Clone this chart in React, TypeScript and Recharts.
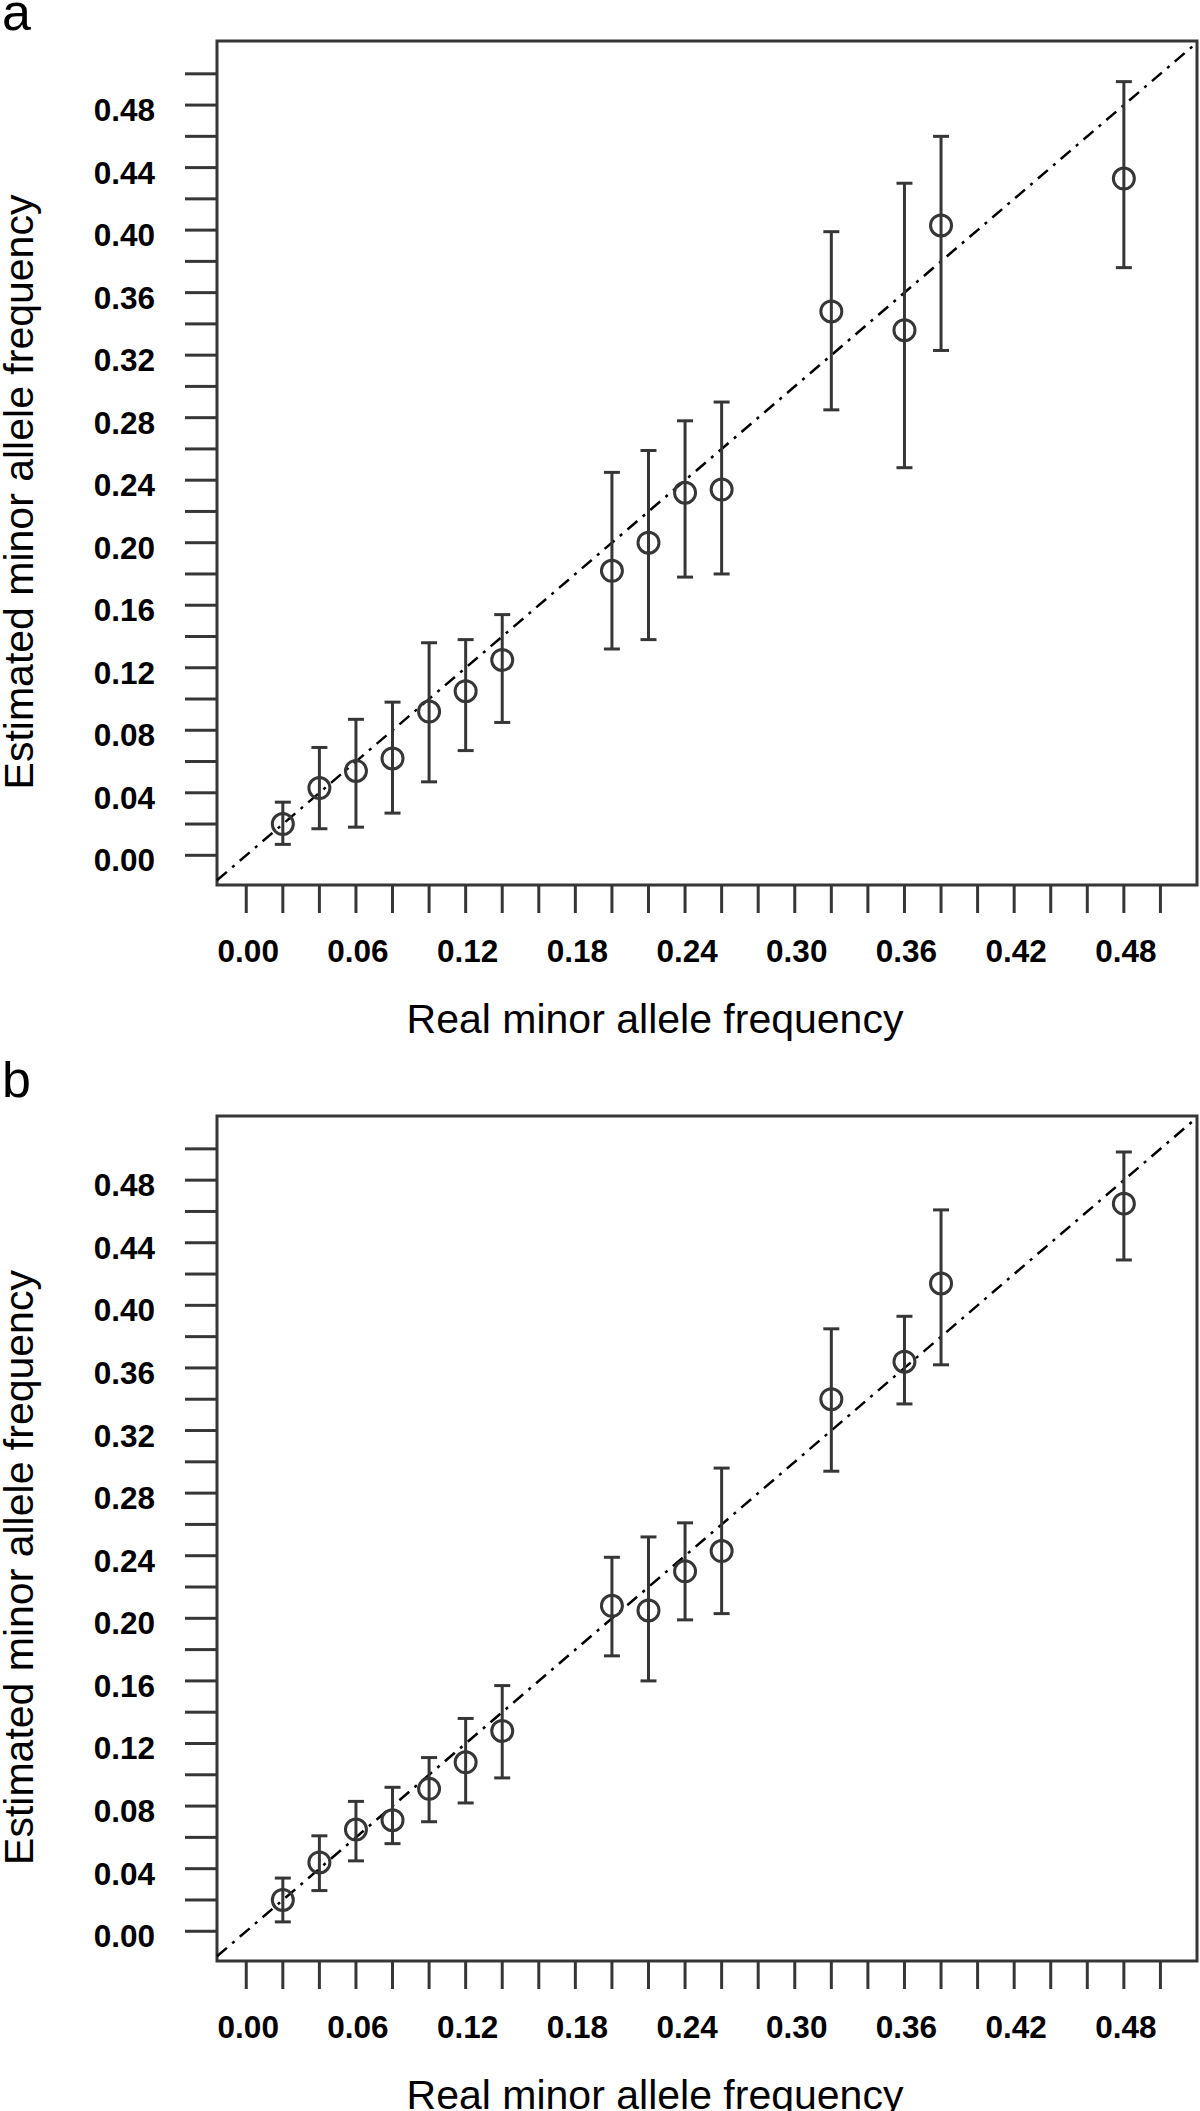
import {
  ScatterChart,
  Scatter,
  XAxis,
  YAxis,
  ErrorBar,
  ReferenceArea,
  ReferenceLine,
  Label,
} from "recharts";

// real minor allele frequency (x positions, shared by both panels)
const realFreq = [0.02, 0.04, 0.06, 0.08, 0.1, 0.12, 0.14, 0.2, 0.22, 0.24, 0.26, 0.32, 0.36, 0.38, 0.48];

// panel a
const estA = [0.02, 0.043, 0.054, 0.062, 0.092, 0.105, 0.125, 0.182, 0.2, 0.232, 0.234, 0.348, 0.336, 0.403, 0.433];
const lowA = [0.007, 0.017, 0.018, 0.027, 0.047, 0.067, 0.085, 0.132, 0.138, 0.178, 0.18, 0.285, 0.248, 0.323, 0.376];
const highA = [0.034, 0.069, 0.087, 0.098, 0.136, 0.138, 0.154, 0.245, 0.259, 0.278, 0.29, 0.399, 0.43, 0.46, 0.495];

// panel b
const estB = [0.02, 0.044, 0.065, 0.071, 0.091, 0.108, 0.128, 0.208, 0.205, 0.23, 0.243, 0.34, 0.364, 0.414, 0.465];
const lowB = [0.006, 0.026, 0.045, 0.056, 0.07, 0.082, 0.098, 0.176, 0.16, 0.199, 0.203, 0.294, 0.337, 0.362, 0.429];
const highB = [0.034, 0.061, 0.083, 0.092, 0.111, 0.136, 0.157, 0.239, 0.252, 0.261, 0.296, 0.385, 0.393, 0.461, 0.498];

// tick marks every 0.02, labels on a subset
const axisTicks = [
  0, 0.02, 0.04, 0.06, 0.08, 0.1, 0.12, 0.14, 0.16, 0.18, 0.2, 0.22, 0.24,
  0.26, 0.28, 0.3, 0.32, 0.34, 0.36, 0.38, 0.4, 0.42, 0.44, 0.46, 0.48, 0.5,
];
const xLabelTicks = [0, 0.06, 0.12, 0.18, 0.24, 0.3, 0.36, 0.42, 0.48];
const yLabelTicks = [0, 0.04, 0.08, 0.12, 0.16, 0.2, 0.24, 0.28, 0.32, 0.36, 0.4, 0.44, 0.48];

const X_DOMAIN: [number, number] = [-0.016, 0.52];
const Y_DOMAIN: [number, number] = [-0.019, 0.521];

const INK = "#363636";
const FONT = "'Liberation Sans', Arial, Helvetica, sans-serif";

function buildRows(est: number[], low: number[], high: number[]) {
  return realFreq.map((x, i) => ({
    x,
    y: est[i],
    err: [est[i] - low[i], high[i] - est[i]],
  }));
}

const hasLabel = (list: number[], v: number) => list.some((t) => Math.abs(t - v) < 1e-9);

function XTick(props: any) {
  const { x, y, payload } = props;
  if (!hasLabel(xLabelTicks, payload.value)) return <g />;
  return (
    <text x={x + 2} y={y} dy={23} textAnchor="middle" fontFamily={FONT} fontWeight="bold" fontSize={31.5} fill="#000">
      {payload.value.toFixed(2)}
    </text>
  );
}

function YTick(props: any) {
  const { x, y, payload } = props;
  if (!hasLabel(yLabelTicks, payload.value)) return <g />;
  return (
    <text x={x} y={y} dy={16} textAnchor="end" fontFamily={FONT} fontWeight="bold" fontSize={31.5} fill="#000">
      {payload.value.toFixed(2)}
    </text>
  );
}

function XTitle(props: any) {
  const vb = props.viewBox ?? { x: 217, y: 885, width: 980 };
  return (
    <text x={vb.x + vb.width / 2 - 52} y={vb.y + 148} textAnchor="middle" fontFamily={FONT} fontSize={41} fill="#000">
      Real minor allele frequency
    </text>
  );
}

function YTitle(props: any) {
  const vb = props.viewBox ?? { x: 0, y: 41, width: 217, height: 844 };
  const cx = vb.x + 33;
  const cy = vb.y + vb.height / 2 + 29;
  return (
    <text x={cx} y={cy} transform={`rotate(-90, ${cx}, ${cy})`} textAnchor="middle" fontFamily={FONT} fontSize={41} fill="#000">
      Estimated minor allele frequency
    </text>
  );
}

const Ring = (props: any) => (
  <circle cx={props.cx} cy={props.cy} r={10.5} fill="none" stroke={INK} strokeWidth={3} />
);

function Panel({
  letter,
  rows,
  top,
  marginTop,
  marginBottom,
  letterBaseline,
}: {
  letter: string;
  rows: { x: number; y: number; err: number[] }[];
  top: number;
  marginTop: number;
  marginBottom: number;
  letterBaseline: number;
}) {
  return (
    <div style={{ position: "absolute", left: 0, top, width: 1200, height: 1050 }}>
      <svg width={60} height={70} style={{ position: "absolute", left: 0, top: 0 }}>
        <text x={2} y={letterBaseline} fontFamily={FONT} fontSize={52} fill="#000">
          {letter}
        </text>
      </svg>
      <ScatterChart
        width={1200}
        height={1050}
        margin={{ top: marginTop, right: 3, bottom: marginBottom, left: 0 }}
      >
        <XAxis
          dataKey="x"
          type="number"
          domain={X_DOMAIN}
          ticks={axisTicks}
          interval={0}
          axisLine={false}
          tickLine={{ stroke: INK, strokeWidth: 3 }}
          tickSize={28}
          tickMargin={26}
          tick={XTick}
          height={120}
        >
          <Label content={XTitle} />
        </XAxis>
        <YAxis
          dataKey="y"
          type="number"
          domain={Y_DOMAIN}
          ticks={axisTicks}
          interval={0}
          axisLine={false}
          tickLine={{ stroke: INK, strokeWidth: 3 }}
          tickSize={32}
          tickMargin={30}
          tick={YTick}
          width={217}
        >
          <Label content={YTitle} />
        </YAxis>
        <ReferenceArea
          x1={X_DOMAIN[0]}
          x2={X_DOMAIN[1]}
          y1={Y_DOMAIN[0]}
          y2={Y_DOMAIN[1]}
          fill="none"
          stroke={INK}
          strokeWidth={3}
          ifOverflow="visible"
        />
        <ReferenceLine
          segment={[
            { x: X_DOMAIN[0], y: X_DOMAIN[0] },
            { x: 0.52, y: 0.52 },
          ]}
          stroke="#000"
          strokeWidth={2.5}
          strokeDasharray="13 7 3 7"
          ifOverflow="visible"
        />
        <Scatter data={rows} shape={Ring} isAnimationActive={false}>
          <ErrorBar
            dataKey="err"
            direction="y"
            width={8}
            stroke={INK}
            strokeWidth={3}
            isAnimationActive={false}
          />
        </Scatter>
      </ScatterChart>
    </div>
  );
}

export default function App() {
  return (
    <div
      style={{
        position: "absolute",
        left: 0,
        top: 0,
        width: 1200,
        height: 2111,
        background: "#fff",
        overflow: "hidden",
      }}
    >
      <Panel letter="a" rows={buildRows(estA, lowA, highA)} top={0} marginTop={41} marginBottom={45} letterBaseline={30} />
      <Panel letter="b" rows={buildRows(estB, lowB, highB)} top={1061} marginTop={55} marginBottom={30} letterBaseline={36} />
    </div>
  );
}
